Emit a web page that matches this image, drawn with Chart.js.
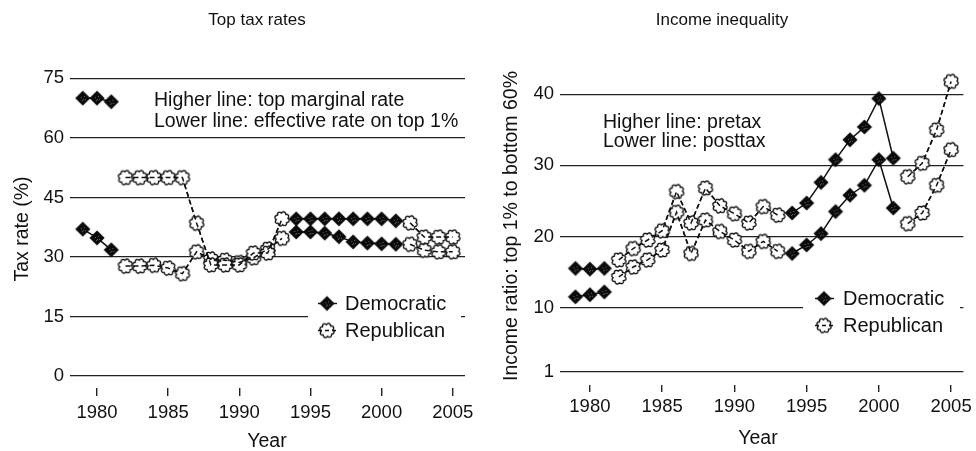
<!DOCTYPE html>
<html><head><meta charset="utf-8">
<script src="https://cdn.jsdelivr.net/npm/chart.js@4.4.1/dist/chart.umd.min.js"></script>
<style>
html,body{margin:0;padding:0;background:#fff;}
#wrap{position:relative;width:976px;height:451px;overflow:hidden;}
canvas{position:absolute;top:0;}
</style></head><body>
<div id="wrap">
<canvas id="c1" width="488" height="451" style="left:0"></canvas>
<canvas id="c2" width="488" height="451" style="left:488px"></canvas>
</div>
<script>
// ---------- data ----------
const years = [1979,1980,1981,1982,1983,1984,1985,1986,1987,1988,1989,1990,1991,1992,1993,1994,1995,1996,1997,1998,1999,2000,2001,2002,2003,2004,2005];
const party = ['D','D','D','R','R','R','R','R','R','R','R','R','R','R','R','D','D','D','D','D','D','D','D','R','R','R','R'];
const taxTopMarginal   = [70,70,69.1,50,50,50,50,50,38.5,28,28,28,31,31,39.6,39.6,39.6,39.6,39.6,39.6,39.6,39.6,39.1,38.6,35,35,35];
const taxEffectiveTop1 = [37,34.8,31.8,27.7,27.7,27.9,27.2,25.8,31.3,29.5,29.2,28.6,29.8,32.0,34.7,36.3,36.3,36.0,35.1,33.8,33.5,33.3,33.2,33.2,31.7,31.3,31.3];
const ratioPretax      = [15.5,15.4,15.5,16.7,18.3,19.5,20.8,26.3,21.9,26.8,24.3,23.2,21.9,24.2,23.0,23.3,24.7,27.6,30.8,33.6,35.4,39.4,31.0,28.4,30.3,35.0,41.8];
const ratioPosttax     = [11.5,11.8,12.2,14.3,15.7,16.7,18.1,23.4,17.6,22.3,20.7,19.5,17.9,19.3,17.9,17.6,18.8,20.4,23.5,25.8,27.2,30.8,24.0,21.8,23.3,27.2,32.2];
const xTickYears = [1980,1985,1990,1995,2000,2005];
const taxTicks   = [0,15,30,45,60,75];
const ratioTicks = [1,10,20,30,40];
const partyNames = {D:'Democratic', R:'Republican'};

// ---------- markers ----------
function makeScallop(){
  const s=18, c=document.createElement('canvas'); c.width=s; c.height=s;
  const g=c.getContext('2d'); const cx=s/2, cy=s/2;
  g.beginPath();
  for(let i=0;i<=360;i++){
    const t=i*Math.PI/180; const r=5.8+1.5*Math.abs(Math.sin(4*t+0.4));
    const x=cx+r*Math.cos(t), y=cy+r*Math.sin(t);
    if(i) g.lineTo(x,y); else g.moveTo(x,y);
  }
  g.closePath(); g.fillStyle='#fff'; g.fill(); g.lineWidth=1.4; g.strokeStyle='#111'; g.stroke();
  return c;
}
function makeDiamond(){
  const s=18, c=document.createElement('canvas'); c.width=s; c.height=s;
  const g=c.getContext('2d'); const m=s/2, h=7.6;
  g.beginPath(); g.moveTo(m,m-h); g.lineTo(m+h,m); g.lineTo(m,m+h); g.lineTo(m-h,m); g.closePath();
  g.fillStyle='#0a0a0a'; g.fill();
  g.fillStyle='#6a6a6a';
  [[m-2,m-1],[m+1,m-2],[m,m+1],[m-1,m+2],[m+2,m+1]].forEach(p=>g.fillRect(p[0],p[1],1,1));
  return c;
}
const scallopImg = makeScallop();
const diamondImg = makeDiamond();

const FONT = "'Liberation Sans', Arial, sans-serif";
const INK = '#111';

// ---------- overlay texts & legend ----------
const overlayPlugin = {
  id:'overlay',
  afterDraw(chart, args, o){
    const ctx=chart.ctx; ctx.save();
    ctx.fillStyle=INK;
    ctx.font = `${o.title.size}px ${FONT}`; ctx.textAlign='center'; ctx.textBaseline='middle';
    ctx.fillText(o.title.text, o.title.x, o.title.y);
    ctx.font = `${o.noteSize}px ${FONT}`; ctx.textAlign='left'; ctx.textBaseline='alphabetic';
    o.notes.forEach(n=>ctx.fillText(n.text,n.x,n.y));
    ctx.font = `${o.axisSize}px ${FONT}`; ctx.textAlign='center'; ctx.textBaseline='middle';
    ctx.fillText(o.xTitle.text, o.xTitle.x, o.xTitle.y);
    ctx.save(); ctx.translate(o.yTitle.x,o.yTitle.y); ctx.rotate(-Math.PI/2);
    ctx.fillText(o.yTitle.text,0,0); ctx.restore();
    // legend
    const L=o.legend;
    ctx.fillStyle='#fff'; ctx.fillRect(L.x,L.y,L.w,L.h);
    L.items.forEach((it,i)=>{
      const cy=L.cy0+i*L.gap;
      ctx.drawImage(it.img, L.mx-it.img.width/2, cy-it.img.height/2);
      ctx.strokeStyle=INK; ctx.lineWidth=1.4; ctx.setLineDash(it.dash);
      ctx.beginPath(); ctx.moveTo(L.mx-9,cy); ctx.lineTo(L.mx+10,cy); ctx.stroke();
      ctx.setLineDash([]);
      ctx.fillStyle=INK; ctx.font=`${L.size}px ${FONT}`; ctx.textAlign='left'; ctx.textBaseline='middle';
      ctx.fillText(it.text, L.tx, cy+1);
    });
    ctx.restore();
  }
};

function seriesFor(vals, p){ return years.map((yr,i)=>({x:yr, y: party[i]===p ? vals[i] : null})); }

function makeDatasets(upper, lower){
  const base = {borderColor:INK, borderWidth:1.5, tension:0, spanGaps:false, clip:false};
  const dashR = [5,3];
  return [
    {...base, label:partyNames.R+' (upper, line)', data:seriesFor(upper,'R'), borderDash:dashR, pointRadius:0},
    {...base, label:partyNames.R+' (lower, line)', data:seriesFor(lower,'R'), borderDash:dashR, pointRadius:0},
    {...base, label:partyNames.D+' (upper)', data:seriesFor(upper,'D'), pointStyle:diamondImg, pointRadius:7},
    {...base, label:partyNames.D+' (lower)', data:seriesFor(lower,'D'), pointStyle:diamondImg, pointRadius:7},
    {...base, label:partyNames.R+' (upper)', data:seriesFor(upper,'R'), borderDash:dashR, pointStyle:scallopImg, pointRadius:7},
    {...base, label:partyNames.R+' (lower)', data:seriesFor(lower,'R'), borderDash:dashR, pointStyle:scallopImg, pointRadius:7}
  ];
}

function makeOptions(cfg){
  return {
    responsive:false, animation:false, events:[],
    layout:{padding:{left:0,right:cfg.padRight,top:cfg.padTop,bottom:0}},
    plugins:{legend:{display:false}, tooltip:{enabled:false}, overlay:cfg.overlay},
    scales:{
      x:{type:'linear', min:cfg.xMin, max:cfg.xMax,
        afterBuildTicks:s=>{ s.ticks = xTickYears.map(v=>({value:v})); },
        afterFit:s=>{ s.height = cfg.xHeight; },
        grid:{display:true, drawOnChartArea:false, drawTicks:true, tickLength:cfg.tickLen, color:'#222', lineWidth:1.4},
        border:{display:false},
        ticks:{callback:v=>String(v), font:{family:FONT,size:18.5}, color:INK, padding:cfg.xPad, maxRotation:0, autoSkip:false}
      },
      y:{type:'linear', min:cfg.yMin, max:cfg.yMax,
        afterBuildTicks:s=>{ s.ticks = cfg.yTicks.map(v=>({value:v})); },
        afterFit:s=>{ s.width = cfg.yWidth; },
        grid:{color:'#222', lineWidth:1.3, drawTicks:false},
        border:{display:false},
        ticks:{callback:v=>String(v), font:{family:FONT,size:18.5}, color:INK, padding:6}
      }
    }
  };
}

new Chart(document.getElementById('c1'), {
  type:'line',
  data:{datasets:makeDatasets(taxTopMarginal, taxEffectiveTop1)},
  options:makeOptions({
    padRight:23, padTop:78.3, xHeight:63, yWidth:70, tickLen:8, xPad:6,
    xMin:1978.1, xMax:2005.86, yMin:-3, yMax:75, yTicks:taxTicks,
    overlay:{
      title:{text:'Top tax rates', x:257, y:20, size:17},
      noteSize:19.5,
      notes:[{text:'Higher line: top marginal rate', x:154, y:106},{text:'Lower line: effective rate on top 1%', x:154, y:126.5}],
      axisSize:19.5,
      xTitle:{text:'Year', x:267, y:442},
      yTitle:{text:'Tax rate (%)', x:23, y:229},
      legend:{x:308, y:289, w:153, h:54, mx:327, tx:345, cy0:303.5, gap:27, size:20,
        items:[{text:'Democratic', img:diamondImg, dash:[]},{text:'Republican', img:scallopImg, dash:[4,3]}]}
    }
  }),
  plugins:[overlayPlugin]
});

new Chart(document.getElementById('c2'), {
  type:'line',
  data:{datasets:makeDatasets(ratioPretax, ratioPosttax)},
  options:makeOptions({
    padRight:11, padTop:76.5, xHeight:66, yWidth:72, tickLen:7, xPad:4,
    xMin:1977.93, xMax:2005.85, yMin:-0.9, yMax:42.5, yTicks:ratioTicks,
    overlay:{
      title:{text:'Income inequality', x:234, y:20, size:17},
      noteSize:19.5,
      notes:[{text:'Higher line: pretax', x:115, y:128.3},{text:'Lower line: posttax', x:115, y:147.3}],
      axisSize:19.5,
      xTitle:{text:'Year', x:270, y:438.5},
      yTitle:{text:'Income ratio: top 1% to bottom 60%', x:24, y:226},
      legend:{x:315, y:284, w:157, h:54, mx:336, tx:355, cy0:298.5, gap:27, size:20,
        items:[{text:'Democratic', img:diamondImg, dash:[]},{text:'Republican', img:scallopImg, dash:[4,3]}]}
    }
  }),
  plugins:[overlayPlugin]
});
</script>
</body></html>
